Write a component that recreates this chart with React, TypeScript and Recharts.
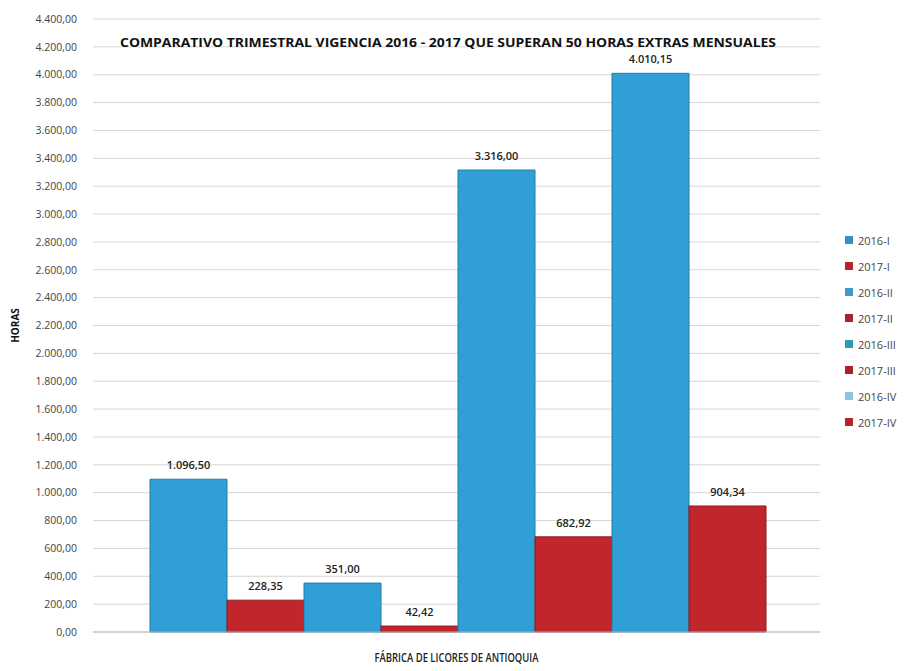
import { BarChart, Bar, XAxis, YAxis, CartesianGrid, Legend, LabelList, Label } from 'recharts';

const category = 'FÁBRICA DE LICORES DE ANTIOQUIA';
const seriesNames = ['2016-I', '2017-I', '2016-II', '2017-II', '2016-III', '2017-III', '2016-IV', '2017-IV'];
const seriesValues = [1096.5, 228.35, 351.0, 42.42, 3316.0, 682.92, 4010.15, 904.34];
const barColors = ['#2f9fd6', '#c0262c', '#2f9fd6', '#c0262c', '#2f9fd6', '#c0262c', '#2f9fd6', '#c0262c'];
const legendColors = ['#3a8fc4', '#b8222b', '#3d9ac9', '#a8232a', '#2d9bb5', '#b01f28', '#8ec5de', '#b8222b'];
const yTicks = [0, 200, 400, 600, 800, 1000, 1200, 1400, 1600, 1800, 2000, 2200, 2400, 2600, 2800, 3000, 3200, 3400, 3600, 3800, 4000, 4200, 4400];

const data = [
  seriesNames.reduce(
    (row: Record<string, string | number>, name, i) => {
      row[name] = seriesValues[i];
      return row;
    },
    { name: category }
  ),
];

// es-CO style: 4.010,15
function fmt(v: number) {
  const [int, dec] = v.toFixed(2).split('.');
  return int.replace(/\B(?=(\d{3})+(?!\d))/g, '.') + ',' + dec;
}

const font = 'Open Sans, "Noto Sans", sans-serif';

function CategoryTick(props: any) {
  const { x, y, payload } = props;
  return (
    <text
      x={x}
      y={y + 22}
      textAnchor="middle"
      fontFamily={font}
      fontSize={12}
      fontWeight={600}
      fill="#222"
      textLength={164}
      lengthAdjust="spacingAndGlyphs"
    >
      {payload.value}
    </text>
  );
}

function LegendContent() {
  return (
    <div style={{ fontFamily: font, fontSize: 11, color: '#444' }}>
      {seriesNames.map((n, i) => (
        <div key={n} style={{ display: 'flex', alignItems: 'center', height: 26 }}>
          <span style={{ width: 8, height: 8, background: legendColors[i], marginRight: 5, display: 'inline-block' }} />
          {n}
        </div>
      ))}
    </div>
  );
}

export default function App() {
  return (
    <div style={{ position: 'absolute', left: 0, top: 0, width: 909, height: 671, background: '#fff' }}>
      <BarChart
        width={909}
        height={671}
        data={data}
        margin={{ top: 19, right: 25, left: 0, bottom: 0 }}
        barCategoryGap={57}
        barGap={0}
      >
        <CartesianGrid vertical={false} stroke="#d6d6d6" />
        <XAxis
          dataKey="name"
          height={39}
          tickLine={false}
          axisLine={{ stroke: '#bbb' }}
          tick={<CategoryTick />}
          interval={0}
        />
        <YAxis
          width={93}
          domain={[0, 4400]}
          ticks={yTicks}
          interval={0}
          tickFormatter={fmt}
          tickLine={false}
          axisLine={false}
          tickMargin={10}
          tick={{ fontFamily: font, fontSize: 10.5, fill: '#444' }}
        >
          <Label
            value="HORAS"
            angle={-90}
            position="insideLeft"
            offset={15}
            style={{ fontFamily: font, fontSize: 10, fontWeight: 700, fill: '#111', textAnchor: 'middle' }}
          />
        </YAxis>
        <Legend
          layout="vertical"
          verticalAlign="top"
          align="right"
          content={<LegendContent />}
          wrapperStyle={{ left: 845, top: 227, width: 64 }}
        />
        {seriesNames.map((n, i) => (
          <Bar
            key={n}
            dataKey={n}
            fill={barColors[i]}
            stroke={i % 2 === 0 ? '#1f7fb0' : '#8c1a1f'}
            strokeWidth={1}
            isAnimationActive={false}
          >
            <LabelList
              dataKey={n}
              position="top"
              offset={10}
              formatter={(v: any) => fmt(Number(v))}
              style={{ fontFamily: font, fontSize: 11, fontWeight: 600, fill: '#222' }}
            />
          </Bar>
        ))}
      </BarChart>
      <svg style={{ position: 'absolute', left: 0, top: 0 }} width={909} height={80} pointerEvents="none">
        <text
          x={120}
          y={47}
          fontFamily={font}
          fontSize={13}
          fontWeight={700}
          fill="#111"
          textLength={656}
          lengthAdjust="spacingAndGlyphs"
        >
          COMPARATIVO TRIMESTRAL VIGENCIA 2016 - 2017 QUE SUPERAN 50 HORAS EXTRAS MENSUALES
        </text>
      </svg>
    </div>
  );
}
